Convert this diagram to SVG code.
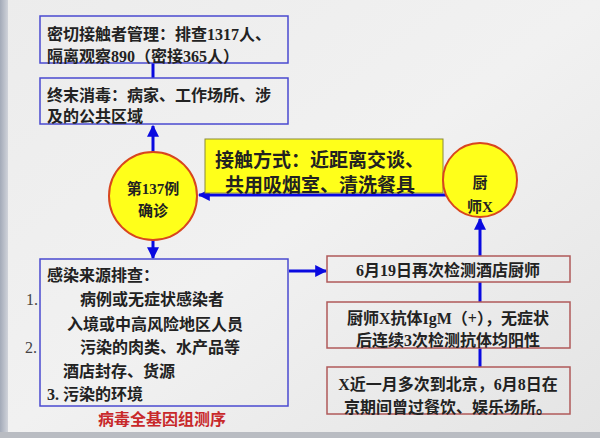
<svg xmlns="http://www.w3.org/2000/svg" width="600" height="438" viewBox="0 0 600 438">
<defs>
<linearGradient id="bg" x1="0" y1="0" x2="1" y2="1">
<stop offset="0" stop-color="#ececec"/>
<stop offset="0.5" stop-color="#f1f1f1"/>
<stop offset="1" stop-color="#e4e4e4"/>
</linearGradient>
<linearGradient id="lstrip" x1="0" y1="0" x2="1" y2="0">
<stop offset="0" stop-color="#a3aab8"/>
<stop offset="1" stop-color="#d0d3da"/>
</linearGradient>
<marker id="ah" viewBox="0 0 10 10" refX="9" refY="5" markerWidth="4" markerHeight="4" orient="auto" markerUnits="strokeWidth">
<path d="M0,0 L10,5 L0,10 z" fill="#0a0ae0"/>
</marker>
<style>
.t{font-family:"Liberation Serif","Noto Sans CJK SC",serif;font-weight:bold;fill:#222;}
.n{font-family:"Liberation Serif","Noto Sans CJK SC",serif;fill:#444;}
.bb{fill:none;stroke:#4a4ad0;stroke-width:1.5;}
.rb{fill:none;stroke:#b05a5a;stroke-width:1.5;}
.cir{fill:#ffff1a;stroke:#d8461e;stroke-width:2;}
.c{stroke:#0a0ae0;stroke-width:3;fill:none;}
</style>
</defs>
<rect x="0" y="0" width="600" height="438" fill="url(#bg)"/>
<rect x="0" y="0" width="8" height="438" fill="url(#lstrip)"/>
<rect x="0" y="432" width="600" height="6" fill="#b9bcc2"/>

<g id="connectors">
<line class="c" x1="153" y1="63" x2="153" y2="78"/>
<line class="c" x1="153" y1="153" x2="153" y2="126" marker-end="url(#ah)"/>
<line class="c" x1="153" y1="239" x2="153" y2="258" marker-end="url(#ah)"/>
<line class="c" x1="446" y1="195" x2="199" y2="195" marker-end="url(#ah)"/>
<line class="c" x1="289" y1="271" x2="326" y2="271" marker-end="url(#ah)"/>
<line class="c" x1="480" y1="256" x2="480" y2="219" marker-end="url(#ah)"/>
<line class="c" x1="480" y1="282" x2="480" y2="302"/>
<line class="c" x1="480" y1="348" x2="480" y2="367"/>
</g>

<g id="box-contacts">
<rect class="bb" x="40" y="16" width="248" height="47"/>
<text class="t" font-size="16" x="47" y="40">密切接触者管理：排查1317人、</text>
<text class="t" font-size="16" x="47" y="62">隔离观察890（密接365人）</text>
</g>

<g id="box-disinfect">
<rect class="bb" x="40" y="78" width="248" height="46"/>
<text class="t" font-size="16" x="47" y="101">终末消毒：病家、工作场所、涉</text>
<text class="t" font-size="16" x="47" y="122">及的公共区域</text>
</g>

<g id="box-contact-mode">
<rect x="205" y="139" width="238" height="54" fill="#ffff1a" stroke="#8a8a3a" stroke-width="1"/>
<text class="t" font-size="19" x="215" y="167">接触方式：近距离交谈、</text>
<text class="t" font-size="19" x="225" y="192">共用吸烟室、清洗餐具</text>
</g>

<g id="case137">
<circle class="cir" cx="153" cy="196" r="44"/>
<text class="t" font-size="15" x="153" y="194" text-anchor="middle">第137例</text>
<text class="t" font-size="15" x="153" y="216" text-anchor="middle">确诊</text>
</g>

<g id="chefX">
<circle class="cir" cx="480" cy="180" r="37"/>
<text class="t" font-size="15" x="480" y="188" text-anchor="middle">厨</text>
<text class="t" font-size="15" x="480" y="212" text-anchor="middle">师X</text>
</g>

<g id="box-source">
<rect class="bb" x="40" y="259" width="248" height="147"/>
<text class="t" font-size="16" x="47" y="281">感染来源排查：</text>
<text class="n" font-size="16" x="26" y="305">1.</text>
<text class="t" font-size="16" x="80" y="305">病例或无症状感染者</text>
<text class="t" font-size="16" x="67" y="330">入境或中高风险地区人员</text>
<text class="n" font-size="16" x="25" y="353">2.</text>
<text class="t" font-size="16" x="80" y="353">污染的肉类、水产品等</text>
<text class="t" font-size="16" x="63" y="377">酒店封存、货源</text>
<text class="t" font-size="16" x="47" y="400">3. 污染的环境</text>
<text class="t" font-size="16" x="98" y="425" style="fill:#c8282a">病毒全基因组测序</text>
</g>

<g id="box-retest">
<rect class="rb" x="327" y="256" width="243" height="26"/>
<text class="t" font-size="16" x="448" y="276" text-anchor="middle">6月19日再次检测酒店厨师</text>
</g>

<g id="box-antibody">
<rect class="rb" x="327" y="302" width="243" height="46"/>
<text class="t" font-size="16" x="448" y="324" text-anchor="middle">厨师X抗体IgM（+），无症状</text>
<text class="t" font-size="16" x="448" y="346" text-anchor="middle">后连续3次检测抗体均阳性</text>
</g>

<g id="box-travel">
<rect class="rb" x="327" y="367" width="243" height="47"/>
<text class="t" font-size="16" x="448" y="390" text-anchor="middle">X近一月多次到北京，6月8日在</text>
<text class="t" font-size="16" x="448" y="413" text-anchor="middle">京期间曾过餐饮、娱乐场所。</text>
</g>
</svg>
